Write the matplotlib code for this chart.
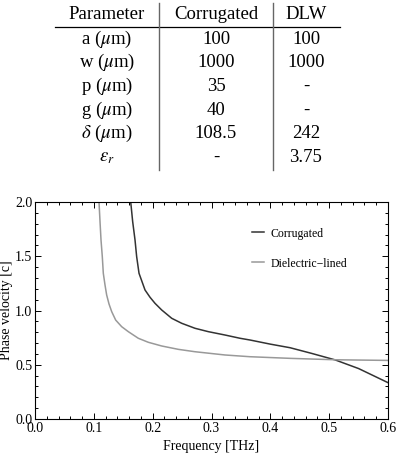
import matplotlib
matplotlib.use("Agg")
import matplotlib.pyplot as plt
from matplotlib.ticker import MultipleLocator, FormatStrFormatter
from matplotlib.lines import Line2D

plt.rcParams['font.family'] = ['Liberation Serif', 'DejaVu Serif']
plt.rcParams['mathtext.fontset'] = 'stix'

# ---- table data ----
table_header = ["Parameter", "Corrugated", "DLW"]
table_params = [r"a ($\mu$m)", r"w ($\mu$m)", r"p ($\mu$m)", r"g ($\mu$m)",
                r"$\delta$ ($\mu$m)", r"$\epsilon_r$"]
table_corrugated = ["100", "1000", "35", "40", "108.5", "-"]
table_dlw = ["100", "1000", "-", "-", "242", "3.75"]

# ---- curve data ----
corr_f = [0.1627, 0.166, 0.170, 0.1728, 0.1768, 0.187, 0.1955, 0.204, 0.2153,
          0.2324, 0.2494, 0.272, 0.2946, 0.323, 0.3485, 0.3655, 0.400, 0.4335,
          0.470, 0.510, 0.550, 0.600]
corr_v = [2.00, 1.82, 1.65, 1.496, 1.343, 1.189, 1.122, 1.066, 1.005,
          0.928, 0.882, 0.836, 0.805, 0.774, 0.744, 0.728, 0.690, 0.657,
          0.605, 0.545, 0.465, 0.335]

diel_f = [0.1088, 0.1105, 0.1122, 0.1144, 0.1161, 0.119, 0.1218, 0.1258,
          0.1304, 0.1371, 0.1473, 0.1586, 0.1756, 0.1926, 0.2153, 0.2436,
          0.272, 0.323, 0.3655, 0.4335, 0.510, 0.600]
diel_v = [2.00, 1.82, 1.65, 1.496, 1.343, 1.235, 1.143, 1.060,
          0.989, 0.912, 0.851, 0.805, 0.744, 0.707, 0.673, 0.642,
          0.620, 0.590, 0.574, 0.559, 0.546, 0.540]

W, H = 399, 461
fig = plt.figure(figsize=(W / 100, H / 100), dpi=100)

# ---- table ----
def fx(px):
    return px / W

def fy(py):
    return 1 - py / H

col_x = [106.7, 216, 306]
row_y = [39.3, 62.9, 86.5, 110.1, 133.7, 157.3]
tfs = 13.5
for cx, txt in zip(col_x, table_header):
    fig.text(fx(cx), fy(14.5), txt, ha='center', va='center', fontsize=tfs)
for i, ry in enumerate(row_y):
    fig.text(fx(col_x[0]), fy(ry), table_params[i], ha='center', va='center', fontsize=tfs)
    fig.text(fx(col_x[1]), fy(ry), table_corrugated[i], ha='center', va='center', fontsize=tfs)
    fig.text(fx(col_x[2]), fy(ry), table_dlw[i], ha='center', va='center', fontsize=tfs)
fig.add_artist(Line2D([fx(55), fx(340)], [fy(26.7), fy(26.7)], color='black', lw=0.9))
for vx in (159.3, 272.7):
    fig.add_artist(Line2D([fx(vx), fx(vx)], [fy(3.3), fy(170)], color='#666666', lw=1.0))

# ---- plot ----
ax = fig.add_axes([35 / W, 1 - 419 / H, (388 - 35) / W, (419 - 202) / H])
ax.plot(corr_f, corr_v, color='#333333', lw=1.1, label='Corrugated')
ax.plot(diel_f, diel_v, color='#999999', lw=1.1, label='Dielectric\u2212lined')
ax.set_xlim(0, 0.6)
ax.set_ylim(0, 2.0)
ax.xaxis.set_major_locator(MultipleLocator(0.1))
ax.xaxis.set_minor_locator(MultipleLocator(0.02))
ax.yaxis.set_major_locator(MultipleLocator(0.5))
ax.yaxis.set_minor_locator(MultipleLocator(0.1))
ax.xaxis.set_major_formatter(FormatStrFormatter('%.1f'))
ax.yaxis.set_major_formatter(FormatStrFormatter('%.1f'))
ax.tick_params(which='both', direction='in', top=True, right=True, labelsize=10,
               width=0.7, pad=2)
ax.tick_params(which='major', length=4)
ax.tick_params(which='minor', length=2)
for s in ax.spines.values():
    s.set_linewidth(0.8)
ax.set_xlabel('Frequency [THz]', fontsize=10, labelpad=4)
ax.set_ylabel('Phase velocity [c]', fontsize=10)
ax.yaxis.set_label_coords(-0.063, 0.5)
ax.legend(loc='upper left', bbox_to_anchor=(0.615, 0.882), frameon=False,
          fontsize=8.5, handlelength=1.0, handletextpad=0.6, labelspacing=1.52,
          borderpad=0, borderaxespad=0)

fig.savefig('out.png', dpi=100)
